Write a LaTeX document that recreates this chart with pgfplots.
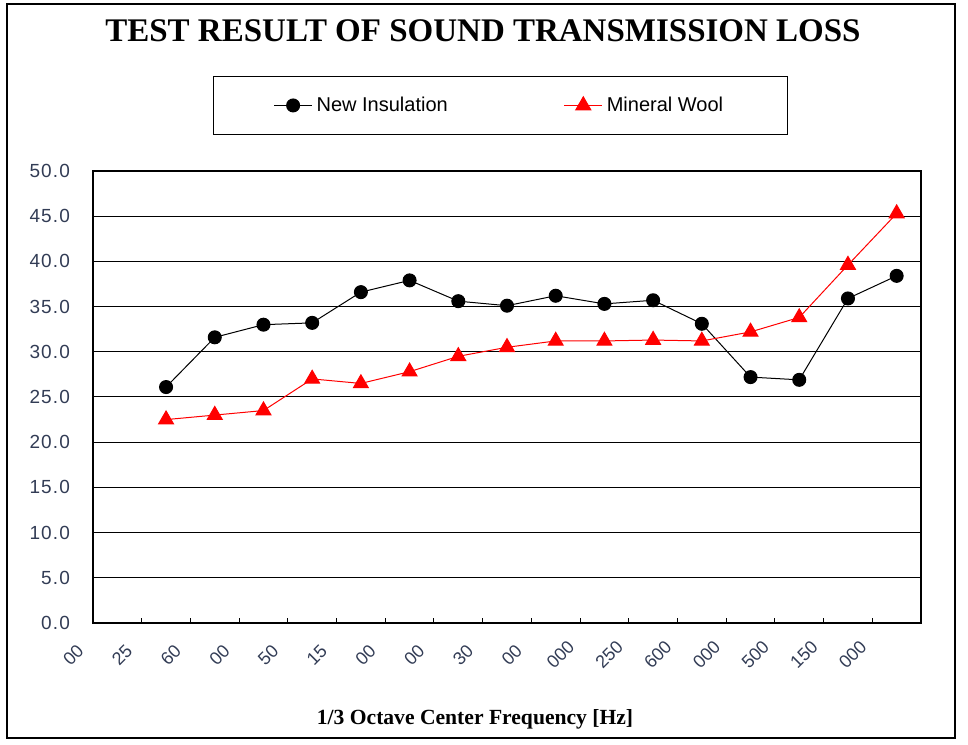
\documentclass[border=0pt]{standalone}
\usepackage{fontspec}
\setmainfont{Liberation Serif}
\setsansfont{Liberation Sans}
\newfontfamily\tickfont[LetterSpace=6]{Liberation Sans}
\usepackage{pgfplots}
\usepackage{pgfplotstable}
\pgfplotsset{compat=1.18}
\definecolor{ticktext}{RGB}{50,60,85}

% sound transmission loss per 1/3 octave band (dB); band 0 has no reading
\pgfplotstableread{
band newins minwool
1  26.1 22.5
2  31.6 23.0
3  33.0 23.5
4  33.2 27.0
5  36.6 26.5
6  37.9 27.8
7  35.6 29.5
8  35.1 30.5
9  36.2 31.2
10 35.3 31.2
11 35.7 31.3
12 33.1 31.2
13 27.2 32.2
14 26.9 33.8
15 35.9 39.6
16 38.4 45.3
}\stldata

\begin{document}
\begin{tikzpicture}[x=1pt,y=1pt]
  \useasboundingbox (0,0) rectangle (484,372);
  \draw[line width=0.6pt] (3.5,3) rectangle (477.5,370);
  \node[font=\bfseries\fontsize{16.5}{18}\selectfont] at (241.5,356.5)
    {TEST RESULT OF SOUND TRANSMISSION LOSS};
  \node[font=\bfseries\fontsize{10.8}{12}\selectfont] at (237.5,12.5)
    {1/3 Octave Center Frequency [Hz]};
  \begin{axis}[
      at={(46.5pt,60.5pt)}, anchor=south west,
      scale only axis, width=414pt, height=226pt,
      xmin=-0.5, xmax=16.5, ymin=0, ymax=50,
      xtick={0,...,16},
      xticklabels={00,25,60,00,50,15,00,00,30,00,000,250,600,000,500,150,000},
      minor xtick={-0.5,0.5,...,16.5},
      ytick={0,5,...,50},
      tick pos=left, tick align=inside,
      major tick length=0pt, minor tick length=2.5pt,
      minor tick style={black, line width=0.5pt},
      ymajorgrids, major grid style={black, line width=0.5pt},
      axis line style={line width=0.75pt},
      /pgf/number format/.cd, fixed, fixed zerofill, precision=1, assume math mode=true,
      /pgfplots/.cd,
      yticklabel style={font=\tickfont\fontsize{9.5}{10}\selectfont, color=ticktext, xshift=-8pt},
      xticklabel style={font=\sffamily\fontsize{9}{10}\selectfont, color=ticktext,
        anchor=center, xshift=-22pt, yshift=-16pt, rotate=45},
      legend columns=2,
      legend image code/.code={\draw[mark repeat=2,mark phase=2]
        plot coordinates {(0pt,0pt) (9.5pt,0pt) (19pt,0pt)};},
      legend style={at={(0.492,1.145)}, anchor=center, draw=black, line width=0.5pt,
        font=\sffamily\fontsize{10}{12}\selectfont,
        inner xsep=30pt, inner ysep=8pt,
        /tikz/every even column/.append style={column sep=56pt}},
    ]
    \addplot[black, line width=0.5pt, mark=*, mark size=3.25pt,
      mark options={fill=black}] table[x=band, y=newins] {\stldata};
    \addlegendentry{New Insulation}
    \addplot[red, line width=0.5pt, mark=triangle*, mark size=4.3pt,
      mark options={fill=red}] table[x=band, y=minwool] {\stldata};
    \addlegendentry{Mineral Wool}
  \end{axis}
\end{tikzpicture}
\end{document}
